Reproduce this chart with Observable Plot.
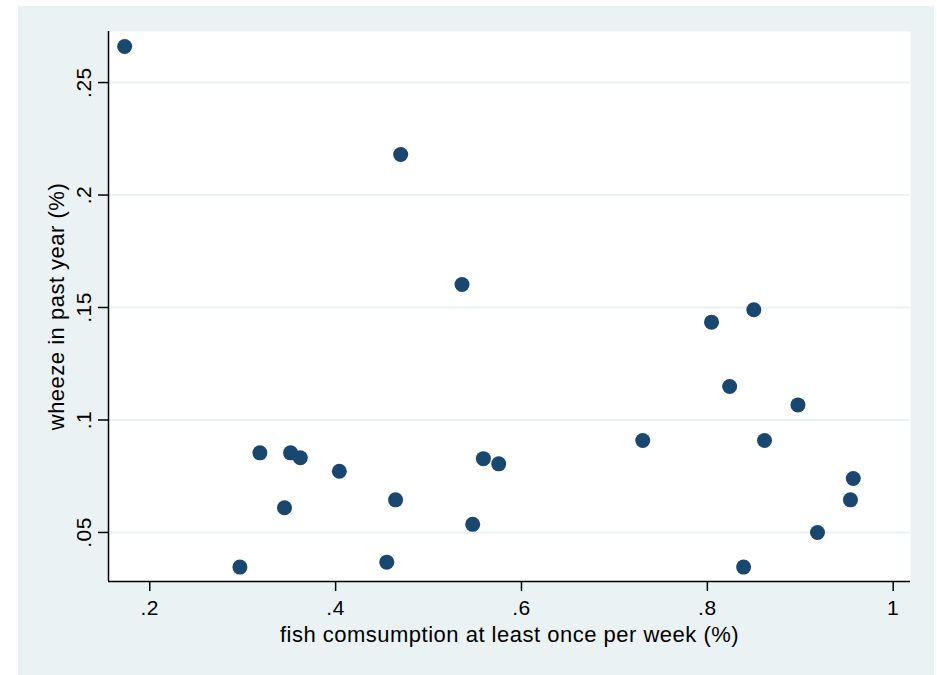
<!DOCTYPE html>
<html>
<head>
<meta charset="utf-8">
<script src="https://cdn.jsdelivr.net/npm/d3@7"></script>
<script src="https://cdn.jsdelivr.net/npm/@observablehq/plot@0.6"></script>
<style>
  html, body { margin: 0; padding: 0; background: #ffffff; }
  #wrap { position: relative; width: 937px; height: 675px; overflow: hidden; }
  #bg { position: absolute; left: 18px; top: 6px; width: 916px; height: 669px; background: #eaf2f3; }
  #chart { position: absolute; left: 0; top: 0; }
</style>
</head>
<body>
<div id="wrap"><div id="bg"></div><div id="chart"></div></div>
<script>
// fish consumption at least once per week (share) vs wheeze in past year (share)
const fish = [0.173, 0.470, 0.536, 0.8045, 0.850, 0.824, 0.8975, 0.7305, 0.8615, 0.957, 0.954, 0.9185,
              0.839, 0.3185, 0.3515, 0.362, 0.404, 0.345, 0.4645, 0.559, 0.5755, 0.5475, 0.297, 0.455];
const wheeze = [0.266, 0.218, 0.1602, 0.1435, 0.149, 0.1149, 0.1067, 0.0909, 0.0909, 0.074, 0.0645, 0.050,
                0.0346, 0.0854, 0.0854, 0.0832, 0.0772, 0.061, 0.0645, 0.0828, 0.0805, 0.0536, 0.0346, 0.0368];

const xTicks = [0.2, 0.4, 0.6, 0.8, 1];
const xTickLabels = [".2", ".4", ".6", ".8", "1"];
const yTicks = [0.05, 0.1, 0.15, 0.2, 0.25];
const yTickLabels = [".05", ".1", ".15", ".2", ".25"];

const xTitle = "fish comsumption at least once per week (%)";
const yTitle = "wheeze in past year (%)";

const data = fish.map((f, i) => ({fish: f, wheeze: wheeze[i]}));
const xLab = d => xTickLabels[xTicks.indexOf(d)];
const yLab = d => yTickLabels[yTicks.indexOf(d)];

const chart = Plot.plot({
  width: 937,
  height: 675,
  marginLeft: 108,
  marginRight: 27,
  marginTop: 31,
  marginBottom: 94,
  style: {background: "transparent", fontFamily: "'Liberation Sans', Arial, Helvetica, sans-serif", color: "#000"},
  x: {domain: [0.1556, 1.0186]},
  y: {domain: [0.0282, 0.2727]},
  marks: [
    Plot.frame({fill: "#ffffff", stroke: null}),
    // light horizontal gridlines inside the plot region
    Plot.ruleY(yTicks, {stroke: "#eaf2f3", strokeWidth: 2}),
    Plot.axisX(xTicks, {
      tickFormat: xLab, tickSize: 10, tickPadding: 9, fontSize: 21,
      stroke: "#000", strokeWidth: 1.5,
      label: xTitle, labelAnchor: "center", labelOffset: 60, labelArrow: "none"
    }),
    // y tick marks and title
    Plot.axisY(yTicks, {
      anchor: "left", tickFormat: () => "", tickSize: 10, stroke: "#000", strokeWidth: 1.5,
      fontSize: 21, label: yTitle, labelAnchor: "center", labelOffset: 60, labelArrow: "none"
    }),
    // rotated y tick labels
    Plot.text(yTicks, {
      y: d => d, text: yLab, frameAnchor: "left", dx: -18, rotate: -90,
      textAnchor: "middle", lineAnchor: "bottom", fontSize: 21, fill: "#000"
    }),
    Plot.ruleY([0.0282], {stroke: "#000", strokeWidth: 1.5}),
    Plot.ruleX([0.1556], {stroke: "#000", strokeWidth: 1.5}),
    Plot.dot(data, {x: "fish", y: "wheeze", r: 7.5, fill: "#1a476f", stroke: null})
  ]
});
chart.querySelectorAll("text").forEach(t => {
  const s = t.textContent;
  if (s === xTitle || s === yTitle) {
    t.setAttribute("font-size", "22");
    t.style.letterSpacing = "0.5px";
  } else if (yTickLabels.includes(s) || xTickLabels.includes(s)) {
    t.style.letterSpacing = "0.5px";
  }
});
document.getElementById("chart").appendChild(chart);
</script>
</body>
</html>
